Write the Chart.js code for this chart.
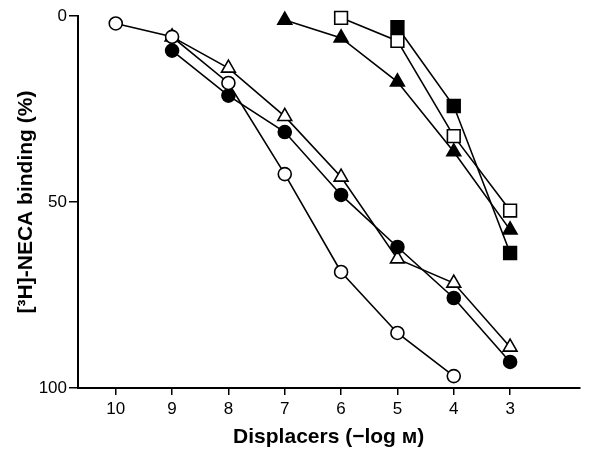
<!DOCTYPE html>
<html><head><meta charset="utf-8">
<script src="https://cdn.jsdelivr.net/npm/chart.js@4/dist/chart.umd.min.js"></script>
<style>html,body{margin:0;padding:0;background:#fff;}#wrap{width:590px;height:454px;}</style>
</head><body><div id="wrap"><canvas id="c" width="590" height="454"></canvas></div>
<script>
// -log M doses and % bound values for each displacer
const xTickValues = [10, 9, 8, 7, 6, 5, 4, 3];
const yTickValues = [0, 50, 100];

const openCircleX = [10, 9, 8, 7, 6, 5, 4];
const openCircleY = [2, 5.6, 18, 42.5, 68.8, 85.2, 96.8];

const filledCircleX = [9, 8, 7, 6, 5, 4, 3];
const filledCircleY = [9.3, 21.4, 31.2, 48.1, 62.1, 75.8, 93];

const openTriangleX = [9, 8, 7, 6, 5, 4, 3];
const openTriangleY = [5.6, 14, 27, 43.3, 65.3, 71.8, 89];

const filledTriangleX = [7, 6, 5, 4, 3];
const filledTriangleY = [1.1, 5.9, 17.7, 36.5, 57.5];

const openSquareX = [6, 5, 4, 3];
const openSquareY = [0.5, 6.7, 32.3, 52.3];

const filledSquareX = [5, 4, 3];
const filledSquareY = [3, 24.2, 63.7];

function pts(xs, ys) { return xs.map((x, i) => ({x: x, y: ys[i]})); }
function ds(xs, ys, style, fill, r) {
  return {
    data: pts(xs, ys), borderColor: '#000', borderWidth: 1.6, clip: false,
    pointStyle: style, pointRadius: r, pointHoverRadius: r,
    pointBackgroundColor: fill, pointBorderColor: '#000', pointBorderWidth: 1.6,
    fill: false, tension: 0
  };
}

new Chart(document.getElementById('c'), {
  type: 'line',
  data: {
    datasets: [
      ds(openCircleX, openCircleY, 'circle', '#fff', 6.5),
      ds(filledCircleX, filledCircleY, 'circle', '#000', 6.5),
      ds(openTriangleX, openTriangleY, 'triangle', '#fff', 8),
      ds(filledTriangleX, filledTriangleY, 'triangle', '#000', 8),
      ds(openSquareX, openSquareY, 'rect', '#fff', 9),
      ds(filledSquareX, filledSquareY, 'rect', '#000', 9)
    ]
  },
  options: {
    responsive: false, animation: false,
    layout: {padding: {top: 16, right: 5, left: 0, bottom: 0}},
    plugins: {legend: {display: false}, tooltip: {enabled: false}},
    scales: {
      x: {
        type: 'linear', reverse: true, min: 1.77, max: 10.67,
        afterBuildTicks: s => { s.ticks = xTickValues.map(v => ({value: v})); },
        afterFit: s => { s.height = 66; s.paddingLeft = 0; s.paddingRight = 0; },
        grid: {display: true, drawOnChartArea: false, drawTicks: true, tickLength: 7, color: '#000', lineWidth: 1.5},
        border: {display: true, color: '#000', width: 2},
        ticks: {color: '#000', font: {family: 'Liberation Sans', size: 17}, padding: 4, maxRotation: 0, autoSkip: false},
        title: {display: true, text: 'Displacers (\u2212log \u1D0D)', color: '#000',
                font: {family: 'Liberation Sans', size: 21, weight: 'bold'}, padding: {top: 0, bottom: 4}}
      },
      y: {
        type: 'linear', reverse: true, min: 0, max: 100,
        afterBuildTicks: s => { s.ticks = yTickValues.map(v => ({value: v})); },
        afterFit: s => { s.width = 78; s.paddingTop = 0; s.paddingBottom = 0; },
        grid: {display: true, drawOnChartArea: false, drawTicks: true, tickLength: 9, color: '#000', lineWidth: 1.5},
        border: {display: true, color: '#000', width: 2},
        ticks: {color: '#000', font: {family: 'Liberation Sans', size: 17}, padding: 2},
        title: {display: true, text: '[\u00B3H]-NECA binding (%)', color: '#000',
                font: {family: 'Liberation Sans', size: 21, weight: 'bold'}, padding: {top: 14, bottom: 0}}
      }
    }
  }
});
</script></body></html>
